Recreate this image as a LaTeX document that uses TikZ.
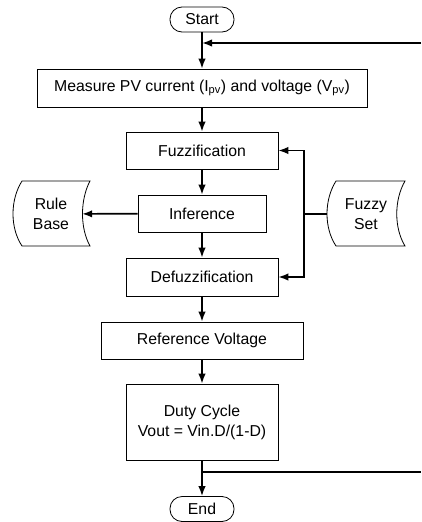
\documentclass[tikz,border=0pt]{standalone}
\usepackage{fontspec}
\setmainfont{Liberation Sans}
\usepackage{tikz}
\usetikzlibrary{arrows.meta}

\tikzset{
  flowbox/.style={draw, line width=0.8pt, inner sep=0pt, align=center},
  termbox/.style={draw, line width=0.8pt, rounded corners=12pt, inner sep=0pt,
    minimum width=64pt, minimum height=25pt},
  flowline/.style={line width=1.7pt},
  flowarrow/.style={flowline, -{Latex[length=10pt,width=7.5pt]}},
  storebox/.style={draw, line width=0.8pt}
}

\begin{document}
\begin{tikzpicture}[x=1pt, y=-1pt, font=\fontsize{15.8}{20}\selectfont]
    \useasboundingbox (0,0) rectangle (421,522);
    % terminals
    \node[termbox] (start) at (202,19.5) {Start};
    \node[termbox] (end) at (202,509) {End};
    % process boxes
    \node[flowbox, minimum width=330pt, minimum height=38pt] (measure) at (202,88)
        {Measure PV current (I\textsubscript{pv}) and voltage (V\textsubscript{pv})};
    \node[flowbox, minimum width=152pt, minimum height=37pt] (fuzz) at (202,150.5) {Fuzzification};
    \node[flowbox, minimum width=128pt, minimum height=37pt] (inf) at (202,213.5) {Inference};
    \node[flowbox, minimum width=152pt, minimum height=38pt] (defuzz) at (202,277) {Defuzzification};
    \node[flowbox, minimum width=202pt, minimum height=37pt] (ref) at (202,340.5) {Reference Voltage};
    \node[flowbox, minimum width=152pt, minimum height=76pt] (duty) at (202,422)
        {Duty Cycle\\Vout = Vin.D/(1-D)};
    % stored data
    \node[align=center, minimum width=62pt, inner sep=0pt] (rb) at (51,214) {Rule\\Base};
    \node[align=center, minimum width=78pt, inner sep=0pt] (fs) at (366,214) {Fuzzy\\Set};
    \draw[storebox] (22,181) -- (90,181) .. controls (80,200) and (80,228) .. (90,246)
        -- (22,246) .. controls (10,228) and (10,200) .. (22,181) -- cycle;
    \draw[storebox] (336,181) -- (405,181) .. controls (394,200) and (394,228) .. (405,246)
        -- (336,246) .. controls (324,228) and (324,200) .. (336,181) -- cycle;
    % main flow
    \draw[flowarrow] (start) -- (measure);
    \draw[flowarrow] (measure) -- (fuzz);
    \draw[flowarrow] (fuzz) -- (inf);
    \draw[flowarrow] (inf) -- (defuzz);
    \draw[flowarrow] (defuzz) -- (ref);
    \draw[flowarrow] (ref) -- (duty);
    \draw[flowarrow] (duty) -- (end);
    \draw[flowarrow] (inf) -- (rb);
    % fuzzy set links
    \coordinate (fsj) at (304,214);
    \draw[flowline] (fs.west) -- (fsj);
    \draw[flowarrow] (fsj) |- (fuzz.east);
    \draw[flowarrow] (fsj) |- (defuzz.east);
    % loop back
    \coordinate (loopin) at (421,43);
    \coordinate (loopout) at (421,472);
    \draw[flowarrow] (loopin) -- (start.south |- loopin);
    \draw[flowline] (duty.south |- loopout) -- (loopout);
\end{tikzpicture}
\end{document}
